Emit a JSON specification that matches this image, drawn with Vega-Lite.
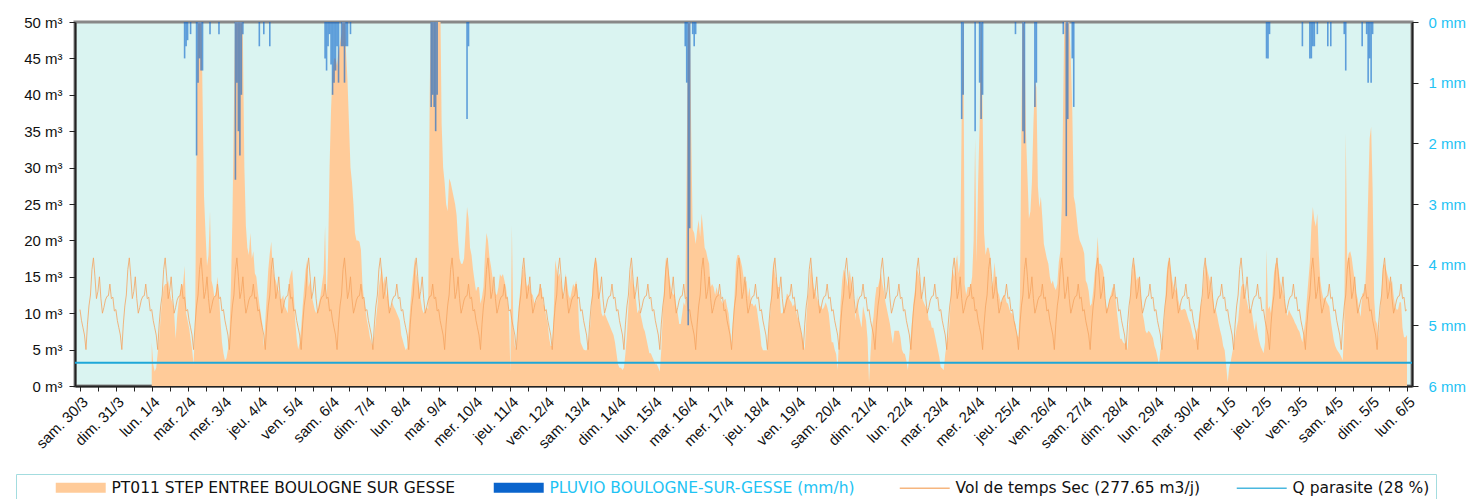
{
"$schema": "https://vega.github.io/schema/vega-lite/v6.json",
"width": 1337, "height": 364,
"autosize": {"type": "none"},
"padding": {"left": 75, "top": 22, "right": 56, "bottom": 113},
"background": "white",
"config": {"view": {"fill": "#daf4f1", "stroke": "#888888", "strokeWidth": 3}, "font": "Liberation Sans", "axis": {"labelOverlap": false}},
"datasets": {
"flow": [
{"t":"24033000","s":10.5},{"t":"24033001","s":9},{"t":"24033002","s":8},{"t":"24033003","s":7},{"t":"24033004","s":5},{"t":"24033005","s":8.5},{"t":"24033006","s":11},{"t":"24033007","s":12.5},{"t":"24033008","s":16},{"t":"24033009","s":17.6},{"t":"24033010","s":15},{"t":"24033011","s":12},{"t":"24033012","s":13},{"t":"24033013","s":15},{"t":"24033014","s":12},{"t":"24033015","s":10},{"t":"24033016","s":10.8},{"t":"24033017","s":11.8},{"t":"24033018","s":12.3},{"t":"24033019","s":12.4},{"t":"24033020","s":14},{"t":"24033021","s":12},{"t":"24033022","s":12.2},{"t":"24033023","s":10.3},
{"t":"24033100","s":10.5},{"t":"24033101","s":9},{"t":"24033102","s":8},{"t":"24033103","s":7},{"t":"24033104","s":5},{"t":"24033105","s":8.5},{"t":"24033106","s":11},{"t":"24033107","s":12.5},{"t":"24033108","s":16},{"t":"24033109","s":17.6},{"t":"24033110","s":15},{"t":"24033111","s":12},{"t":"24033112","s":13},{"t":"24033113","s":15},{"t":"24033114","s":12},{"t":"24033115","s":10},{"t":"24033116","s":10.8},{"t":"24033117","s":11.8},{"t":"24033118","s":12.3},{"t":"24033119","s":12.4},{"t":"24033120","s":14},{"t":"24033121","s":12},{"t":"24033122","s":12.2},{"t":"24033123","s":10.3},
{"t":"24040100","q":6,"s":10.5},{"t":"24040101","q":3,"s":9},{"t":"24040102","q":2,"s":8},{"t":"24040103","q":2.5,"s":7},{"t":"24040104","q":4.5,"s":5},{"t":"24040105","q":6.5,"s":8.5},{"t":"24040106","q":9.5,"s":11},{"t":"24040107","q":12,"s":12.5},{"t":"24040108","q":13.6,"s":16},{"t":"24040109","q":14,"s":17.6},{"t":"24040110","q":14,"s":15},{"t":"24040111","q":14.5,"s":12},{"t":"24040112","q":13,"s":13},{"t":"24040113","q":12,"s":15},{"t":"24040114","q":11.3,"s":12},{"t":"24040115","q":10,"s":10},{"t":"24040116","q":6.5,"s":10.8},{"t":"24040117","q":9.5,"s":11.8},{"t":"24040118","q":11.5,"s":12.3},{"t":"24040119","q":13,"s":12.4},{"t":"24040120","q":13.6,"s":14},{"t":"24040121","q":14,"s":12},{"t":"24040122","q":16.5,"s":12.2},{"t":"24040123","q":10,"s":10.3},
{"t":"24040200","q":9,"s":10.5},{"t":"24040201","q":8,"s":9},{"t":"24040202","q":6.5,"s":8},{"t":"24040203","q":5,"s":7},{"t":"24040204","q":3,"s":5},{"t":"24040205","q":8,"s":8.5},{"t":"24040206","q":32,"s":11},{"t":"24040207","q":55,"s":12.5},{"t":"24040208","q":55,"s":16},{"t":"24040209","q":55,"s":17.6},{"t":"24040210","q":40,"s":15},{"t":"24040211","q":26,"s":12},{"t":"24040212","q":21,"s":13},{"t":"24040213","q":16.5,"s":15},{"t":"24040214","q":18,"s":12},{"t":"24040215","q":24,"s":10},{"t":"24040216","q":14.5,"s":10.8},{"t":"24040217","q":13.6,"s":11.8},{"t":"24040218","q":12,"s":12.3},{"t":"24040219","q":13,"s":12.4},{"t":"24040220","q":15,"s":14},{"t":"24040221","q":12.5,"s":12},{"t":"24040222","q":9,"s":12.2},{"t":"24040223","q":6,"s":10.3},
{"t":"24040300","q":4.5,"s":10.5},{"t":"24040301","q":3.5,"s":9},{"t":"24040302","q":3.8,"s":8},{"t":"24040303","q":5,"s":7},{"t":"24040304","q":7,"s":5},{"t":"24040305","q":13.6,"s":8.5},{"t":"24040306","q":23,"s":11},{"t":"24040307","q":38,"s":12.5},{"t":"24040308","q":55,"s":16},{"t":"24040309","q":55,"s":17.6},{"t":"24040310","q":55,"s":15},{"t":"24040311","q":55,"s":12},{"t":"24040312","q":55,"s":13},{"t":"24040313","q":48,"s":15},{"t":"24040314","q":30,"s":12},{"t":"24040315","q":22,"s":10},{"t":"24040316","q":19,"s":10.8},{"t":"24040317","q":18,"s":11.8},{"t":"24040318","q":21,"s":12.3},{"t":"24040319","q":17.5,"s":12.4},{"t":"24040320","q":18.5,"s":14},{"t":"24040321","q":15.5,"s":12},{"t":"24040322","q":15,"s":12.2},{"t":"24040323","q":13,"s":10.3},
{"t":"24040400","q":11.3,"s":10.5},{"t":"24040401","q":10,"s":9},{"t":"24040402","q":8.5,"s":8},{"t":"24040403","q":5.4,"s":7},{"t":"24040404","q":9,"s":5},{"t":"24040405","q":12.5,"s":8.5},{"t":"24040406","q":16,"s":11},{"t":"24040407","q":18.2,"s":12.5},{"t":"24040408","q":19.8,"s":16},{"t":"24040409","q":16,"s":17.6},{"t":"24040410","q":15,"s":15},{"t":"24040411","q":14.5,"s":12},{"t":"24040412","q":13.6,"s":13},{"t":"24040413","q":13,"s":15},{"t":"24040414","q":12,"s":12},{"t":"24040415","q":12,"s":10},{"t":"24040416","q":12.5,"s":10.8},{"t":"24040417","q":11,"s":11.8},{"t":"24040418","q":10.5,"s":12.3},{"t":"24040419","q":10,"s":12.4},{"t":"24040420","q":14.5,"s":14},{"t":"24040421","q":15.4,"s":12},{"t":"24040422","q":16,"s":12.2},{"t":"24040423","q":13,"s":10.3},
{"t":"24040500","q":9,"s":10.5},{"t":"24040501","q":6.5,"s":9},{"t":"24040502","q":5,"s":8},{"t":"24040503","q":6,"s":7},{"t":"24040504","q":8,"s":5},{"t":"24040505","q":11,"s":8.5},{"t":"24040506","q":13.6,"s":11},{"t":"24040507","q":16,"s":12.5},{"t":"24040508","q":17.3,"s":16},{"t":"24040509","q":13.6,"s":17.6},{"t":"24040510","q":14.5,"s":15},{"t":"24040511","q":12.5,"s":12},{"t":"24040512","q":11.5,"s":13},{"t":"24040513","q":10.5,"s":15},{"t":"24040514","q":10,"s":12},{"t":"24040515","q":10.5,"s":10},{"t":"24040516","q":11.5,"s":10.8},{"t":"24040517","q":12.5,"s":11.8},{"t":"24040518","q":14,"s":12.3},{"t":"24040519","q":15.5,"s":12.4},{"t":"24040520","q":22,"s":14},{"t":"24040521","q":11.3,"s":12},{"t":"24040522","q":18,"s":12.2},{"t":"24040523","q":30,"s":10.3},
{"t":"24040600","q":38,"s":10.5},{"t":"24040601","q":43,"s":9},{"t":"24040602","q":45,"s":8},{"t":"24040603","q":45,"s":7},{"t":"24040604","q":44,"s":5},{"t":"24040605","q":46,"s":8.5},{"t":"24040606","q":47,"s":11},{"t":"24040607","q":48.5,"s":12.5},{"t":"24040608","q":55,"s":16},{"t":"24040609","q":55,"s":17.6},{"t":"24040610","q":46,"s":15},{"t":"24040611","q":42,"s":12},{"t":"24040612","q":36,"s":13},{"t":"24040613","q":30,"s":15},{"t":"24040614","q":28,"s":12},{"t":"24040615","q":25,"s":10},{"t":"24040616","q":21,"s":10.8},{"t":"24040617","q":20,"s":11.8},{"t":"24040618","q":20,"s":12.3},{"t":"24040619","q":19.8,"s":12.4},{"t":"24040620","q":18.7,"s":14},{"t":"24040621","q":14,"s":12},{"t":"24040622","q":12,"s":12.2},{"t":"24040623","q":10.5,"s":10.3},
{"t":"24040700","q":9,"s":10.5},{"t":"24040701","q":8,"s":9},{"t":"24040702","q":6.7,"s":8},{"t":"24040703","q":6,"s":7},{"t":"24040704","q":5.4,"s":5},{"t":"24040705","q":7,"s":8.5},{"t":"24040706","q":9,"s":11},{"t":"24040707","q":11,"s":12.5},{"t":"24040708","q":13.6,"s":16},{"t":"24040709","q":15,"s":17.6},{"t":"24040710","q":16.4,"s":15},{"t":"24040711","q":14,"s":12},{"t":"24040712","q":15,"s":13},{"t":"24040713","q":12.2,"s":15},{"t":"24040714","q":13.6,"s":12},{"t":"24040715","q":11,"s":10},{"t":"24040716","q":10.5,"s":10.8},{"t":"24040717","q":11.5,"s":11.8},{"t":"24040718","q":10.9,"s":12.3},{"t":"24040719","q":10.5,"s":12.4},{"t":"24040720","q":10,"s":14},{"t":"24040721","q":9.5,"s":12},{"t":"24040722","q":9,"s":12.2},{"t":"24040723","q":7,"s":10.3},
{"t":"24040800","q":6.3,"s":10.5},{"t":"24040801","q":5.5,"s":9},{"t":"24040802","q":4.9,"s":8},{"t":"24040803","q":5.3,"s":7},{"t":"24040804","q":8,"s":5},{"t":"24040805","q":11,"s":8.5},{"t":"24040806","q":13.6,"s":11},{"t":"24040807","q":15.5,"s":12.5},{"t":"24040808","q":17.5,"s":16},{"t":"24040809","q":15.5,"s":17.6},{"t":"24040810","q":14.5,"s":15},{"t":"24040811","q":13.6,"s":12},{"t":"24040812","q":11.8,"s":13},{"t":"24040813","q":10.5,"s":15},{"t":"24040814","q":10,"s":12},{"t":"24040815","q":10.3,"s":10},{"t":"24040816","q":10.9,"s":10.8},{"t":"24040817","q":10.5,"s":11.8},{"t":"24040818","q":40,"s":12.3},{"t":"24040819","q":55,"s":12.4},{"t":"24040820","q":55,"s":14},{"t":"24040821","q":55,"s":12},{"t":"24040822","q":55,"s":12.2},{"t":"24040823","q":55,"s":10.3},
{"t":"24040900","q":55,"s":10.5},{"t":"24040901","q":55,"s":9},{"t":"24040902","q":36,"s":8},{"t":"24040903","q":30,"s":7},{"t":"24040904","q":28,"s":5},{"t":"24040905","q":25,"s":8.5},{"t":"24040906","q":24,"s":11},{"t":"24040907","q":28.5,"s":12.5},{"t":"24040908","q":28,"s":16},{"t":"24040909","q":27,"s":17.6},{"t":"24040910","q":26,"s":15},{"t":"24040911","q":25,"s":12},{"t":"24040912","q":23.5,"s":13},{"t":"24040913","q":20,"s":15},{"t":"24040914","q":17.5,"s":12},{"t":"24040915","q":16.8,"s":10},{"t":"24040916","q":16.8,"s":10.8},{"t":"24040917","q":17.5,"s":11.8},{"t":"24040918","q":21,"s":12.3},{"t":"24040919","q":24.6,"s":12.4},{"t":"24040920","q":23,"s":14},{"t":"24040921","q":19,"s":12},{"t":"24040922","q":18,"s":12.2},{"t":"24040923","q":16,"s":10.3},
{"t":"24041000","q":14.5,"s":10.5},{"t":"24041001","q":13,"s":9},{"t":"24041002","q":13.6,"s":8},{"t":"24041003","q":13.6,"s":7},{"t":"24041004","q":11.3,"s":5},{"t":"24041005","q":12.2,"s":8.5},{"t":"24041006","q":13.6,"s":11},{"t":"24041007","q":18,"s":12.5},{"t":"24041008","q":21,"s":16},{"t":"24041009","q":20,"s":17.6},{"t":"24041010","q":17.7,"s":15},{"t":"24041011","q":16.5,"s":12},{"t":"24041012","q":15,"s":13},{"t":"24041013","q":13.6,"s":15},{"t":"24041014","q":12.7,"s":12},{"t":"24041015","q":12.5,"s":10},{"t":"24041016","q":13.6,"s":10.8},{"t":"24041017","q":15.4,"s":11.8},{"t":"24041018","q":15,"s":12.3},{"t":"24041019","q":15.4,"s":12.4},{"t":"24041020","q":14.5,"s":14},{"t":"24041021","q":13.6,"s":12},{"t":"24041022","q":12,"s":12.2},{"t":"24041023","q":10,"s":10.3},
{"t":"24041100","q":2,"s":10.5},{"t":"24041101","q":22,"s":9},{"t":"24041102","q":8,"s":8},{"t":"24041103","q":5.5,"s":7},{"t":"24041104","q":4.9,"s":5},{"t":"24041105","q":8.5,"s":8.5},{"t":"24041106","q":12,"s":11},{"t":"24041107","q":14,"s":12.5},{"t":"24041108","q":15.4,"s":16},{"t":"24041109","q":16.8,"s":17.6},{"t":"24041110","q":15,"s":15},{"t":"24041111","q":13.6,"s":12},{"t":"24041112","q":14,"s":13},{"t":"24041113","q":13.6,"s":15},{"t":"24041114","q":12.7,"s":12},{"t":"24041115","q":12.5,"s":10},{"t":"24041116","q":11.5,"s":10.8},{"t":"24041117","q":11.3,"s":11.8},{"t":"24041118","q":12.5,"s":12.3},{"t":"24041119","q":12.7,"s":12.4},{"t":"24041120","q":13.6,"s":14},{"t":"24041121","q":13.4,"s":12},{"t":"24041122","q":11.3,"s":12.2},{"t":"24041123","q":10.9,"s":10.3},
{"t":"24041200","q":9.5,"s":10.5},{"t":"24041201","q":8.5,"s":9},{"t":"24041202","q":6.5,"s":8},{"t":"24041203","q":5.5,"s":7},{"t":"24041204","q":5.5,"s":5},{"t":"24041205","q":10,"s":8.5},{"t":"24041206","q":17.3,"s":11},{"t":"24041207","q":16,"s":12.5},{"t":"24041208","q":15,"s":16},{"t":"24041209","q":15.5,"s":17.6},{"t":"24041210","q":14,"s":15},{"t":"24041211","q":13,"s":12},{"t":"24041212","q":12,"s":13},{"t":"24041213","q":15.5,"s":15},{"t":"24041214","q":14,"s":12},{"t":"24041215","q":12.5,"s":10},{"t":"24041216","q":12,"s":10.8},{"t":"24041217","q":13,"s":11.8},{"t":"24041218","q":14,"s":12.3},{"t":"24041219","q":13.6,"s":12.4},{"t":"24041220","q":14.5,"s":14},{"t":"24041221","q":13,"s":12},{"t":"24041222","q":8,"s":12.2},{"t":"24041223","q":6,"s":10.3},
{"t":"24041300","q":5.5,"s":10.5},{"t":"24041301","q":5,"s":9},{"t":"24041302","q":4.9,"s":8},{"t":"24041303","q":4.9,"s":7},{"t":"24041304","q":5.5,"s":5},{"t":"24041305","q":7,"s":8.5},{"t":"24041306","q":10,"s":11},{"t":"24041307","q":14,"s":12.5},{"t":"24041308","q":16.5,"s":16},{"t":"24041309","q":17.5,"s":17.6},{"t":"24041310","q":16.8,"s":15},{"t":"24041311","q":14.5,"s":12},{"t":"24041312","q":12,"s":13},{"t":"24041313","q":10,"s":15},{"t":"24041314","q":9.5,"s":12},{"t":"24041315","q":10,"s":10},{"t":"24041316","q":9.5,"s":10.8},{"t":"24041317","q":9,"s":11.8},{"t":"24041318","q":8.5,"s":12.3},{"t":"24041319","q":8,"s":12.4},{"t":"24041320","q":7.5,"s":14},{"t":"24041321","q":7,"s":12},{"t":"24041322","q":6,"s":12.2},{"t":"24041323","q":4.5,"s":10.3},
{"t":"24041400","q":3,"s":10.5},{"t":"24041401","q":2.5,"s":9},{"t":"24041402","q":2.5,"s":8},{"t":"24041403","q":2.2,"s":7},{"t":"24041404","q":2.5,"s":5},{"t":"24041405","q":4.5,"s":8.5},{"t":"24041406","q":7,"s":11},{"t":"24041407","q":11,"s":12.5},{"t":"24041408","q":14,"s":16},{"t":"24041409","q":16.5,"s":17.6},{"t":"24041410","q":14,"s":15},{"t":"24041411","q":13.6,"s":12},{"t":"24041412","q":12,"s":13},{"t":"24041413","q":10,"s":15},{"t":"24041414","q":10.5,"s":12},{"t":"24041415","q":10,"s":10},{"t":"24041416","q":9,"s":10.8},{"t":"24041417","q":8,"s":11.8},{"t":"24041418","q":7.5,"s":12.3},{"t":"24041419","q":6.5,"s":12.4},{"t":"24041420","q":5.5,"s":14},{"t":"24041421","q":4.5,"s":12},{"t":"24041422","q":4.5,"s":12.2},{"t":"24041423","q":4,"s":10.3},
{"t":"24041500","q":3.5,"s":10.5},{"t":"24041501","q":3,"s":9},{"t":"24041502","q":3,"s":8},{"t":"24041503","q":2.5,"s":7},{"t":"24041504","q":2,"s":5},{"t":"24041505","q":5,"s":8.5},{"t":"24041506","q":10,"s":11},{"t":"24041507","q":14,"s":12.5},{"t":"24041508","q":17.5,"s":16},{"t":"24041509","q":17,"s":17.6},{"t":"24041510","q":15.5,"s":15},{"t":"24041511","q":14,"s":12},{"t":"24041512","q":13,"s":13},{"t":"24041513","q":12.5,"s":15},{"t":"24041514","q":12.7,"s":12},{"t":"24041515","q":11,"s":10},{"t":"24041516","q":10,"s":10.8},{"t":"24041517","q":8.5,"s":11.8},{"t":"24041518","q":8.5,"s":12.3},{"t":"24041519","q":10,"s":12.4},{"t":"24041520","q":11.5,"s":14},{"t":"24041521","q":11,"s":12},{"t":"24041522","q":30,"s":12.2},{"t":"24041523","q":55,"s":10.3},
{"t":"24041600","q":55,"s":10.5},{"t":"24041601","q":35,"s":9},{"t":"24041602","q":21.5,"s":8},{"t":"24041603","q":21,"s":7},{"t":"24041604","q":19.5,"s":5},{"t":"24041605","q":21.4,"s":8.5},{"t":"24041606","q":22.8,"s":11},{"t":"24041607","q":20.5,"s":12.5},{"t":"24041608","q":23.7,"s":16},{"t":"24041609","q":21.5,"s":17.6},{"t":"24041610","q":19,"s":15},{"t":"24041611","q":18.5,"s":12},{"t":"24041612","q":17.5,"s":13},{"t":"24041613","q":16.8,"s":15},{"t":"24041614","q":13.6,"s":12},{"t":"24041615","q":14,"s":10},{"t":"24041616","q":13.6,"s":10.8},{"t":"24041617","q":12.5,"s":11.8},{"t":"24041618","q":13.6,"s":12.3},{"t":"24041619","q":12.5,"s":12.4},{"t":"24041620","q":12.7,"s":14},{"t":"24041621","q":11.8,"s":12},{"t":"24041622","q":11.3,"s":12.2},{"t":"24041623","q":11.8,"s":10.3},
{"t":"24041700","q":12,"s":10.5},{"t":"24041701","q":10.9,"s":9},{"t":"24041702","q":10,"s":8},{"t":"24041703","q":8,"s":7},{"t":"24041704","q":5.4,"s":5},{"t":"24041705","q":9,"s":8.5},{"t":"24041706","q":12.5,"s":11},{"t":"24041707","q":17,"s":12.5},{"t":"24041708","q":18,"s":16},{"t":"24041709","q":18,"s":17.6},{"t":"24041710","q":17.3,"s":15},{"t":"24041711","q":16.4,"s":12},{"t":"24041712","q":15,"s":13},{"t":"24041713","q":14,"s":15},{"t":"24041714","q":14.5,"s":12},{"t":"24041715","q":12.2,"s":10},{"t":"24041716","q":13.6,"s":10.8},{"t":"24041717","q":11.3,"s":11.8},{"t":"24041718","q":11.3,"s":12.3},{"t":"24041719","q":10.9,"s":12.4},{"t":"24041720","q":11.3,"s":14},{"t":"24041721","q":10.5,"s":12},{"t":"24041722","q":9,"s":12.2},{"t":"24041723","q":7.6,"s":10.3},
{"t":"24041800","q":5.5,"s":10.5},{"t":"24041801","q":4.9,"s":9},{"t":"24041802","q":4.9,"s":8},{"t":"24041803","q":4.9,"s":7},{"t":"24041804","q":4.9,"s":5},{"t":"24041805","q":8,"s":8.5},{"t":"24041806","q":10,"s":11},{"t":"24041807","q":14.5,"s":12.5},{"t":"24041808","q":17.3,"s":16},{"t":"24041809","q":15.5,"s":17.6},{"t":"24041810","q":14.5,"s":15},{"t":"24041811","q":13.6,"s":12},{"t":"24041812","q":13.6,"s":13},{"t":"24041813","q":10,"s":15},{"t":"24041814","q":10,"s":12},{"t":"24041815","q":10.5,"s":10},{"t":"24041816","q":11.5,"s":10.8},{"t":"24041817","q":12.7,"s":11.8},{"t":"24041818","q":12.5,"s":12.3},{"t":"24041819","q":11.8,"s":12.4},{"t":"24041820","q":11.5,"s":14},{"t":"24041821","q":10.9,"s":12},{"t":"24041822","q":11.3,"s":12.2},{"t":"24041823","q":10.5,"s":10.3},
{"t":"24041900","q":9.5,"s":10.5},{"t":"24041901","q":9,"s":9},{"t":"24041902","q":8,"s":8},{"t":"24041903","q":7,"s":7},{"t":"24041904","q":6,"s":5},{"t":"24041905","q":4.9,"s":8.5},{"t":"24041906","q":9,"s":11},{"t":"24041907","q":12,"s":12.5},{"t":"24041908","q":13.6,"s":16},{"t":"24041909","q":16.5,"s":17.6},{"t":"24041910","q":15,"s":15},{"t":"24041911","q":13.6,"s":12},{"t":"24041912","q":13,"s":13},{"t":"24041913","q":12.2,"s":15},{"t":"24041914","q":11.5,"s":12},{"t":"24041915","q":11,"s":10},{"t":"24041916","q":10.9,"s":10.8},{"t":"24041917","q":10.5,"s":11.8},{"t":"24041918","q":10.9,"s":12.3},{"t":"24041919","q":11.5,"s":12.4},{"t":"24041920","q":10.9,"s":14},{"t":"24041921","q":10,"s":12},{"t":"24041922","q":8,"s":12.2},{"t":"24041923","q":6,"s":10.3},
{"t":"24042000","q":6,"s":10.5},{"t":"24042001","q":5,"s":9},{"t":"24042002","q":4.4,"s":8},{"t":"24042003","q":2.2,"s":7},{"t":"24042004","q":7,"s":5},{"t":"24042005","q":11.5,"s":8.5},{"t":"24042006","q":14.5,"s":11},{"t":"24042007","q":16,"s":12.5},{"t":"24042008","q":15.5,"s":16},{"t":"24042009","q":14.5,"s":17.6},{"t":"24042010","q":13.6,"s":15},{"t":"24042011","q":16,"s":12},{"t":"24042012","q":14.5,"s":13},{"t":"24042013","q":13.6,"s":15},{"t":"24042014","q":11.5,"s":12},{"t":"24042015","q":9,"s":10},{"t":"24042016","q":12.5,"s":10.8},{"t":"24042017","q":10,"s":11.8},{"t":"24042018","q":9,"s":12.3},{"t":"24042019","q":8,"s":12.4},{"t":"24042020","q":11,"s":14},{"t":"24042021","q":10,"s":12},{"t":"24042022","q":9,"s":12.2},{"t":"24042023","q":6.5,"s":10.3},
{"t":"24042100","q":0.5,"s":10.5},{"t":"24042101","q":4.5,"s":9},{"t":"24042102","q":8,"s":8},{"t":"24042103","q":9.5,"s":7},{"t":"24042104","q":12,"s":5},{"t":"24042105","q":13.6,"s":8.5},{"t":"24042106","q":13.6,"s":11},{"t":"24042107","q":14.5,"s":12.5},{"t":"24042108","q":15.5,"s":16},{"t":"24042109","q":14,"s":17.6},{"t":"24042110","q":13,"s":15},{"t":"24042111","q":11.5,"s":12},{"t":"24042112","q":10.5,"s":13},{"t":"24042113","q":9.5,"s":15},{"t":"24042114","q":8.5,"s":12},{"t":"24042115","q":7,"s":10},{"t":"24042116","q":5.8,"s":10.8},{"t":"24042117","q":7.6,"s":11.8},{"t":"24042118","q":7.6,"s":12.3},{"t":"24042119","q":7.6,"s":12.4},{"t":"24042120","q":7.6,"s":14},{"t":"24042121","q":6.7,"s":12},{"t":"24042122","q":5,"s":12.2},{"t":"24042123","q":4.5,"s":10.3},
{"t":"24042200","q":4.4,"s":10.5},{"t":"24042201","q":3.5,"s":9},{"t":"24042202","q":2.2,"s":8},{"t":"24042203","q":4.4,"s":7},{"t":"24042204","q":7,"s":5},{"t":"24042205","q":9.5,"s":8.5},{"t":"24042206","q":12,"s":11},{"t":"24042207","q":13.6,"s":12.5},{"t":"24042208","q":16,"s":16},{"t":"24042209","q":15.5,"s":17.6},{"t":"24042210","q":14.5,"s":15},{"t":"24042211","q":13,"s":12},{"t":"24042212","q":11.8,"s":13},{"t":"24042213","q":11.3,"s":15},{"t":"24042214","q":10.9,"s":12},{"t":"24042215","q":10.5,"s":10},{"t":"24042216","q":9,"s":10.8},{"t":"24042217","q":9,"s":11.8},{"t":"24042218","q":8,"s":12.3},{"t":"24042219","q":8,"s":12.4},{"t":"24042220","q":7,"s":14},{"t":"24042221","q":6,"s":12},{"t":"24042222","q":5,"s":12.2},{"t":"24042223","q":4,"s":10.3},
{"t":"24042300","q":2.6,"s":10.5},{"t":"24042301","q":2.4,"s":9},{"t":"24042302","q":2.2,"s":8},{"t":"24042303","q":4.4,"s":7},{"t":"24042304","q":5.8,"s":5},{"t":"24042305","q":6.7,"s":8.5},{"t":"24042306","q":9,"s":11},{"t":"24042307","q":14,"s":12.5},{"t":"24042308","q":16,"s":16},{"t":"24042309","q":15,"s":17.6},{"t":"24042310","q":17,"s":15},{"t":"24042311","q":18,"s":12},{"t":"24042312","q":15.5,"s":13},{"t":"24042313","q":17,"s":15},{"t":"24042314","q":37,"s":12},{"t":"24042315","q":55,"s":10},{"t":"24042316","q":14,"s":10.8},{"t":"24042317","q":12.5,"s":11.8},{"t":"24042318","q":13.6,"s":12.3},{"t":"24042319","q":13.6,"s":12.4},{"t":"24042320","q":13.6,"s":14},{"t":"24042321","q":15,"s":12},{"t":"24042322","q":20,"s":12.2},{"t":"24042323","q":34,"s":10.3},
{"t":"24042400","q":17,"s":10.5},{"t":"24042401","q":28,"s":9},{"t":"24042402","q":36,"s":8},{"t":"24042403","q":55,"s":7},{"t":"24042404","q":38,"s":5},{"t":"24042405","q":21,"s":8.5},{"t":"24042406","q":18,"s":11},{"t":"24042407","q":19,"s":12.5},{"t":"24042408","q":19,"s":16},{"t":"24042409","q":18,"s":17.6},{"t":"24042410","q":13.6,"s":15},{"t":"24042411","q":14.5,"s":12},{"t":"24042412","q":17,"s":13},{"t":"24042413","q":14.5,"s":15},{"t":"24042414","q":13,"s":12},{"t":"24042415","q":12.5,"s":10},{"t":"24042416","q":11.5,"s":10.8},{"t":"24042417","q":11.5,"s":11.8},{"t":"24042418","q":12.5,"s":12.3},{"t":"24042419","q":12.5,"s":12.4},{"t":"24042420","q":11.5,"s":14},{"t":"24042421","q":11.3,"s":12},{"t":"24042422","q":10.5,"s":12.2},{"t":"24042423","q":10,"s":10.3},
{"t":"24042500","q":10,"s":10.5},{"t":"24042501","q":9,"s":9},{"t":"24042502","q":8.5,"s":8},{"t":"24042503","q":7,"s":7},{"t":"24042504","q":6.7,"s":5},{"t":"24042505","q":12,"s":8.5},{"t":"24042506","q":36.5,"s":11},{"t":"24042507","q":55,"s":12.5},{"t":"24042508","q":48,"s":16},{"t":"24042509","q":35,"s":17.6},{"t":"24042510","q":29,"s":15},{"t":"24042511","q":23,"s":12},{"t":"24042512","q":24,"s":13},{"t":"24042513","q":28,"s":15},{"t":"24042514","q":36,"s":12},{"t":"24042515","q":42,"s":10},{"t":"24042516","q":41,"s":10.8},{"t":"24042517","q":27.4,"s":11.8},{"t":"24042518","q":24.5,"s":12.3},{"t":"24042519","q":26,"s":12.4},{"t":"24042520","q":23,"s":14},{"t":"24042521","q":19.5,"s":12},{"t":"24042522","q":18.5,"s":12.2},{"t":"24042523","q":17.5,"s":10.3},
{"t":"24042600","q":16.8,"s":10.5},{"t":"24042601","q":15,"s":9},{"t":"24042602","q":14,"s":8},{"t":"24042603","q":14.5,"s":7},{"t":"24042604","q":13.6,"s":5},{"t":"24042605","q":13.2,"s":8.5},{"t":"24042606","q":14,"s":11},{"t":"24042607","q":17,"s":12.5},{"t":"24042608","q":18.5,"s":16},{"t":"24042609","q":25,"s":17.6},{"t":"24042610","q":40,"s":15},{"t":"24042611","q":55,"s":12},{"t":"24042612","q":55,"s":13},{"t":"24042613","q":55,"s":15},{"t":"24042614","q":50,"s":12},{"t":"24042615","q":45,"s":10},{"t":"24042616","q":38,"s":10.8},{"t":"24042617","q":26,"s":11.8},{"t":"24042618","q":25,"s":12.3},{"t":"24042619","q":23,"s":12.4},{"t":"24042620","q":21,"s":14},{"t":"24042621","q":20,"s":12},{"t":"24042622","q":19.5,"s":12.2},{"t":"24042623","q":19,"s":10.3},
{"t":"24042700","q":18.2,"s":10.5},{"t":"24042701","q":14.5,"s":9},{"t":"24042702","q":14,"s":8},{"t":"24042703","q":13,"s":7},{"t":"24042704","q":11,"s":5},{"t":"24042705","q":11.3,"s":8.5},{"t":"24042706","q":13,"s":11},{"t":"24042707","q":15.5,"s":12.5},{"t":"24042708","q":17,"s":16},{"t":"24042709","q":20.5,"s":17.6},{"t":"24042710","q":16.8,"s":15},{"t":"24042711","q":16.8,"s":12},{"t":"24042712","q":16.4,"s":13},{"t":"24042713","q":15.5,"s":15},{"t":"24042714","q":12,"s":12},{"t":"24042715","q":10.5,"s":10},{"t":"24042716","q":10.9,"s":10.8},{"t":"24042717","q":12,"s":11.8},{"t":"24042718","q":12.7,"s":12.3},{"t":"24042719","q":13.6,"s":12.4},{"t":"24042720","q":13,"s":14},{"t":"24042721","q":12,"s":12},{"t":"24042722","q":10,"s":12.2},{"t":"24042723","q":8.3,"s":10.3},
{"t":"24042800","q":6.5,"s":10.5},{"t":"24042801","q":6.5,"s":9},{"t":"24042802","q":6,"s":8},{"t":"24042803","q":5.8,"s":7},{"t":"24042804","q":6,"s":5},{"t":"24042805","q":4.9,"s":8.5},{"t":"24042806","q":8.5,"s":11},{"t":"24042807","q":13.6,"s":12.5},{"t":"24042808","q":15.4,"s":16},{"t":"24042809","q":17,"s":17.6},{"t":"24042810","q":16.5,"s":15},{"t":"24042811","q":14.5,"s":12},{"t":"24042812","q":15,"s":13},{"t":"24042813","q":14.5,"s":15},{"t":"24042814","q":12.5,"s":12},{"t":"24042815","q":10,"s":10},{"t":"24042816","q":9,"s":10.8},{"t":"24042817","q":7.6,"s":11.8},{"t":"24042818","q":7.2,"s":12.3},{"t":"24042819","q":7.6,"s":12.4},{"t":"24042820","q":7.4,"s":14},{"t":"24042821","q":7,"s":12},{"t":"24042822","q":6.6,"s":12.2},{"t":"24042823","q":5.5,"s":10.3},
{"t":"24042900","q":4.9,"s":10.5},{"t":"24042901","q":4,"s":9},{"t":"24042902","q":3,"s":8},{"t":"24042903","q":4.9,"s":7},{"t":"24042904","q":5.4,"s":5},{"t":"24042905","q":7.3,"s":8.5},{"t":"24042906","q":10.5,"s":11},{"t":"24042907","q":15,"s":12.5},{"t":"24042908","q":17,"s":16},{"t":"24042909","q":17.3,"s":17.6},{"t":"24042910","q":16,"s":15},{"t":"24042911","q":14.5,"s":12},{"t":"24042912","q":13.6,"s":13},{"t":"24042913","q":13.1,"s":15},{"t":"24042914","q":13.6,"s":12},{"t":"24042915","q":11.8,"s":10},{"t":"24042916","q":11,"s":10.8},{"t":"24042917","q":10.4,"s":11.8},{"t":"24042918","q":10.5,"s":12.3},{"t":"24042919","q":10.6,"s":12.4},{"t":"24042920","q":10.4,"s":14},{"t":"24042921","q":9.7,"s":12},{"t":"24042922","q":9,"s":12.2},{"t":"24042923","q":8.5,"s":10.3},
{"t":"24043000","q":7.6,"s":10.5},{"t":"24043001","q":6.7,"s":9},{"t":"24043002","q":6.3,"s":8},{"t":"24043003","q":7.5,"s":7},{"t":"24043004","q":8,"s":5},{"t":"24043005","q":9.7,"s":8.5},{"t":"24043006","q":11,"s":11},{"t":"24043007","q":12,"s":12.5},{"t":"24043008","q":14.5,"s":16},{"t":"24043009","q":17,"s":17.6},{"t":"24043010","q":16.3,"s":15},{"t":"24043011","q":15.4,"s":12},{"t":"24043012","q":14.5,"s":13},{"t":"24043013","q":13.6,"s":15},{"t":"24043014","q":12.5,"s":12},{"t":"24043015","q":10.5,"s":10},{"t":"24043016","q":10.5,"s":10.8},{"t":"24043017","q":9.6,"s":11.8},{"t":"24043018","q":8.5,"s":12.3},{"t":"24043019","q":7.6,"s":12.4},{"t":"24043020","q":6.8,"s":14},{"t":"24043021","q":5.5,"s":12},{"t":"24043022","q":4.9,"s":12.2},{"t":"24043023","q":2.8,"s":10.3},
{"t":"24050100","q":0.5,"s":10.5},{"t":"24050101","q":2.5,"s":9},{"t":"24050102","q":3.3,"s":8},{"t":"24050103","q":4.5,"s":7},{"t":"24050104","q":5.5,"s":5},{"t":"24050105","q":6.7,"s":8.5},{"t":"24050106","q":8,"s":11},{"t":"24050107","q":9,"s":12.5},{"t":"24050108","q":11.3,"s":16},{"t":"24050109","q":13.6,"s":17.6},{"t":"24050110","q":14,"s":15},{"t":"24050111","q":14,"s":12},{"t":"24050112","q":12.5,"s":13},{"t":"24050113","q":11.5,"s":15},{"t":"24050114","q":10.5,"s":12},{"t":"24050115","q":10.5,"s":10},{"t":"24050116","q":10.5,"s":10.8},{"t":"24050117","q":9,"s":11.8},{"t":"24050118","q":7.6,"s":12.3},{"t":"24050119","q":9,"s":12.4},{"t":"24050120","q":7.4,"s":14},{"t":"24050121","q":6.3,"s":12},{"t":"24050122","q":5.5,"s":12.2},{"t":"24050123","q":5,"s":10.3},
{"t":"24050200","q":4.5,"s":10.5},{"t":"24050201","q":6,"s":9},{"t":"24050202","q":18.7,"s":8},{"t":"24050203","q":10.5,"s":7},{"t":"24050204","q":11,"s":5},{"t":"24050205","q":10,"s":8.5},{"t":"24050206","q":12.5,"s":11},{"t":"24050207","q":15.5,"s":12.5},{"t":"24050208","q":16.8,"s":16},{"t":"24050209","q":17,"s":17.6},{"t":"24050210","q":16,"s":15},{"t":"24050211","q":14.5,"s":12},{"t":"24050212","q":13.6,"s":13},{"t":"24050213","q":13,"s":15},{"t":"24050214","q":12,"s":12},{"t":"24050215","q":10.4,"s":10},{"t":"24050216","q":9.6,"s":10.8},{"t":"24050217","q":10.5,"s":11.8},{"t":"24050218","q":10,"s":12.3},{"t":"24050219","q":9.6,"s":12.4},{"t":"24050220","q":9.2,"s":14},{"t":"24050221","q":8.7,"s":12},{"t":"24050222","q":8.3,"s":12.2},{"t":"24050223","q":7.8,"s":10.3},
{"t":"24050300","q":7.5,"s":10.5},{"t":"24050301","q":6.7,"s":9},{"t":"24050302","q":6,"s":8},{"t":"24050303","q":7.5,"s":7},{"t":"24050304","q":9,"s":5},{"t":"24050305","q":12,"s":8.5},{"t":"24050306","q":14.5,"s":11},{"t":"24050307","q":17,"s":12.5},{"t":"24050308","q":21.9,"s":16},{"t":"24050309","q":24.6,"s":17.6},{"t":"24050310","q":22.8,"s":15},{"t":"24050311","q":21.9,"s":12},{"t":"24050312","q":23.7,"s":13},{"t":"24050313","q":18,"s":15},{"t":"24050314","q":14.5,"s":12},{"t":"24050315","q":13,"s":10},{"t":"24050316","q":12,"s":10.8},{"t":"24050317","q":12.2,"s":11.8},{"t":"24050318","q":11.7,"s":12.3},{"t":"24050319","q":11.3,"s":12.4},{"t":"24050320","q":10.9,"s":14},{"t":"24050321","q":9,"s":12},{"t":"24050322","q":7.6,"s":12.2},{"t":"24050323","q":6.3,"s":10.3},
{"t":"24050400","q":5.5,"s":10.5},{"t":"24050401","q":5,"s":9},{"t":"24050402","q":4.7,"s":8},{"t":"24050403","q":4.4,"s":7},{"t":"24050404","q":4,"s":5},{"t":"24050405","q":3.5,"s":8.5},{"t":"24050406","q":8,"s":11},{"t":"24050407","q":34.7,"s":12.5},{"t":"24050408","q":17,"s":16},{"t":"24050409","q":18.2,"s":17.6},{"t":"24050410","q":18.5,"s":15},{"t":"24050411","q":17.6,"s":12},{"t":"24050412","q":16,"s":13},{"t":"24050413","q":14.5,"s":15},{"t":"24050414","q":12.7,"s":12},{"t":"24050415","q":12,"s":10},{"t":"24050416","q":10.4,"s":10.8},{"t":"24050417","q":9.5,"s":11.8},{"t":"24050418","q":12.7,"s":12.3},{"t":"24050419","q":12.7,"s":12.4},{"t":"24050420","q":13.3,"s":14},{"t":"24050421","q":18,"s":12},{"t":"24050422","q":26,"s":12.2},{"t":"24050423","q":34,"s":10.3},
{"t":"24050500","q":35.6,"s":10.5},{"t":"24050501","q":27,"s":9},{"t":"24050502","q":12,"s":8},{"t":"24050503","q":9,"s":7},{"t":"24050504","q":8.5,"s":5},{"t":"24050505","q":6.5,"s":8.5},{"t":"24050506","q":10,"s":11},{"t":"24050507","q":13,"s":12.5},{"t":"24050508","q":16.5,"s":16},{"t":"24050509","q":16.8,"s":17.6},{"t":"24050510","q":16,"s":15},{"t":"24050511","q":15.2,"s":12},{"t":"24050512","q":14.5,"s":13},{"t":"24050513","q":14,"s":15},{"t":"24050514","q":14.5,"s":12},{"t":"24050515","q":12.5,"s":10},{"t":"24050516","q":11,"s":10.8},{"t":"24050517","q":10.5,"s":11.8},{"t":"24050518","q":10.5,"s":12.3},{"t":"24050519","q":11.5,"s":12.4},{"t":"24050520","q":11.5,"s":14},{"t":"24050521","q":8,"s":12},{"t":"24050522","q":6.7,"s":12.2},{"t":"24050523","q":6.7,"s":10.3},
{"t":"24050600","q":7,"s":10.5}
],
"rain": [
{"t":"24040122","r":0.6},{"t":"24040123","r":0.4},{"t":"24040200","r":0.3},{"t":"24040202","r":0.2},{"t":"24040206","r":2.2},{"t":"24040207","r":1.0},{"t":"24040208","r":0.6},{"t":"24040209","r":0.8},{"t":"24040210","r":0.8},{"t":"24040215","r":0.2},{"t":"24040221","r":0.2},
{"t":"24040308","r":2.6},{"t":"24040309","r":1.0},{"t":"24040310","r":1.8},{"t":"24040311","r":2.2},{"t":"24040312","r":1.2},{"t":"24040313","r":0.2},
{"t":"24040400","r":0.4},{"t":"24040403","r":0.2},{"t":"24040407","r":0.4},
{"t":"24040520","r":0.6},{"t":"24040521","r":0.8},{"t":"24040522","r":0.4},{"t":"24040523","r":0.2},
{"t":"24040600","r":0.7},{"t":"24040601","r":1.2},{"t":"24040602","r":1.0},{"t":"24040603","r":0.8},{"t":"24040604","r":0.4},{"t":"24040605","r":1.0},{"t":"24040607","r":0.4},{"t":"24040608","r":0.4},{"t":"24040609","r":1.0},{"t":"24040610","r":0.4},{"t":"24040611","r":0.4},{"t":"24040613","r":0.2},
{"t":"24040819","r":1.4},{"t":"24040820","r":1.2},{"t":"24040821","r":1.4},{"t":"24040822","r":1.8},{"t":"24040823","r":1.2},
{"t":"24040919","r":1.6},{"t":"24040920","r":0.4},
{"t":"24041521","r":0.4},{"t":"24041522","r":1.0},{"t":"24041523","r":5.0},{"t":"24041600","r":3.4},{"t":"24041602","r":0.2},{"t":"24041603","r":0.4},{"t":"24041604","r":0.2},
{"t":"24042314","r":1.6},{"t":"24042315","r":1.2},{"t":"24042323","r":1.8},
{"t":"24042402","r":1.0},{"t":"24042403","r":1.6},{"t":"24042404","r":1.2},
{"t":"24042502","r":0.2},{"t":"24042507","r":1.8},{"t":"24042508","r":2.0},{"t":"24042515","r":1.4},{"t":"24042516","r":1.0},
{"t":"24042610","r":0.2},{"t":"24042612","r":3.2},{"t":"24042613","r":1.6},{"t":"24042616","r":0.6},{"t":"24042617","r":1.4},
{"t":"24050202","r":0.6},{"t":"24050203","r":0.6},{"t":"24050204","r":0.2},
{"t":"24050302","r":0.4},{"t":"24050307","r":0.6},{"t":"24050308","r":0.6},{"t":"24050309","r":0.4},{"t":"24050310","r":0.4},{"t":"24050312","r":0.2},{"t":"24050319","r":0.4},{"t":"24050321","r":0.4},
{"t":"24050406","r":0.2},{"t":"24050407","r":0.8},{"t":"24050418","r":0.4},{"t":"24050421","r":0.2},{"t":"24050422","r":1.0},{"t":"24050423","r":0.6},
{"t":"24050500","r":1.0},{"t":"24050501","r":0.2}
],
"qp": [{"qp": 3.2}]
},
"layer": [
{
"data": {"name": "flow", "format": {"parse": {"t": "date:'%y%m%d%H'"}}},
"layer": [
{
"mark": {"type": "area", "clip": true, "opacity": 1},
"encoding": {
"x": {"field": "t", "type": "temporal",
"scale": {"domain": [{"year": 2024, "month": 3, "date": 30}, {"year": 2024, "month": 5, "date": 6}]},
"axis": {"title": null, "tickCount": 74, "labelExpr": "hours(datum.value) == 0 ? ['dim.','lun.','mar.','mer.','jeu.','ven.','sam.'][day(datum.value)] + ' ' + date(datum.value) + '/' + (month(datum.value) + 1) : ''", "labelAngle": -45, "labelFontSize": 15, "labelColor": "#111111", "domainColor": "#222222", "domainWidth": 2, "tickColor": "#222222", "tickSize": 5, "labelOverlap": false, "labelFlush": false, "grid": false, "labelPadding": 3}},
"y": {"field": "q", "type": "quantitative",
"scale": {"domain": [0, 50], "nice": false},
"axis": {"title": null, "values": [0,5,10,15,20,25,30,35,40,45,50], "tickCount": 20, "labelOverlap": false, "labelExpr": "datum.value + ' m³'", "labelFontSize": 15, "labelColor": "#111111", "domainColor": "#222222", "domainWidth": 2, "tickColor": "#222222", "tickSize": 6, "labelPadding": 7, "grid": false}},
"fill": {"datum": "PT011 STEP ENTREE BOULOGNE SUR GESSE", "type": "nominal",
"scale": {"domain": ["PT011 STEP ENTREE BOULOGNE SUR GESSE"], "range": ["#ffcb99"]},
"legend": {"title": null, "orient": "none", "legendX": -26, "legendY": 452, "symbolType": "M-1.12,-0.8H6.88V0.8H-1.12Z", "symbolSize": 156, "symbolStrokeWidth": 1.5, "labelFont": "DejaVu Sans", "labelFontSize": 15.5, "labelOffset": 41, "labelColor": "#111111", "padding": 6, "labelLimit": 600}}
}
},
{
"mark": {"type": "line", "strokeWidth": 1, "opacity": 0.8, "clip": true},
"encoding": {
"x": {"field": "t", "type": "temporal"},
"y": {"field": "s", "type": "quantitative",
"axis": {"title": null, "values": [0,5,10,15,20,25,30,35,40,45,50], "tickCount": 20, "labelOverlap": false, "labelExpr": "datum.value + ' m³'", "labelFontSize": 15, "labelColor": "#111111", "domainColor": "#222222", "domainWidth": 2, "tickColor": "#222222", "tickSize": 6, "labelPadding": 7, "grid": false}},
"stroke": {"datum": "Vol de temps Sec (277.65 m3/j)", "type": "nominal",
"scale": {"domain": ["Vol de temps Sec (277.65 m3/j)", "Q parasite (28 %)"], "range": ["#f5a460", "#1ea7d8"]},
"legend": {"title": " ", "titleOrient": "left", "titlePadding": 877, "titleFontSize": 4, "orient": "none", "legendX": -59, "legendY": 452, "direction": "horizontal", "columns": 2, "columnPadding": 32, "symbolType": "M-1.12,0H6.88", "symbolSize": 156, "symbolStrokeWidth": 1.5, "labelFont": "DejaVu Sans", "labelFontSize": 15.5, "labelOffset": 41, "labelColor": "#111111", "padding": 6, "strokeColor": "#a3dcdf", "fillColor": "transparent", "labelLimit": 600}}
}
},
{
"data": {"name": "qp"},
"mark": {"type": "rule", "strokeWidth": 2},
"encoding": {
"y": {"field": "qp", "type": "quantitative",
"axis": {"title": null, "values": [0,5,10,15,20,25,30,35,40,45,50], "tickCount": 20, "labelOverlap": false, "labelExpr": "datum.value + ' m³'", "labelFontSize": 15, "labelColor": "#111111", "domainColor": "#222222", "domainWidth": 2, "tickColor": "#222222", "tickSize": 6, "labelPadding": 7, "grid": false}},
"stroke": {"datum": "Q parasite (28 %)", "type": "nominal"}
}
}
]
},
{
"data": {"name": "rain", "format": {"parse": {"t": "date:'%y%m%d%H'"}}},
"mark": {"type": "bar", "width": 1.6, "opacity": 0.6, "clip": true},
"encoding": {
"x": {"field": "t", "type": "temporal"},
"y": {"field": "r", "type": "quantitative",
"scale": {"domain": [0, 6], "reverse": true, "nice": false},
"axis": {"title": null, "orient": "right", "values": [0,1,2,3,4,5,6], "labelExpr": "datum.value + ' mm'", "labelFontSize": 15, "labelColor": "#1ec3f4", "domainColor": "#222222", "domainWidth": 2, "tickColor": "#222222", "tickSize": 6, "labelPadding": 10, "grid": false}},
"color": {"datum": "PLUVIO BOULOGNE-SUR-GESSE (mm/h)", "type": "nominal",
"scale": {"domain": ["PLUVIO BOULOGNE-SUR-GESSE (mm/h)"], "range": ["#0a64cc"]},
"legend": {"title": null, "orient": "none", "legendX": 412, "legendY": 452, "symbolType": "M-1.12,-0.8H6.88V0.8H-1.12Z", "symbolSize": 156, "symbolStrokeWidth": 1.5, "symbolOpacity": 1, "labelFont": "DejaVu Sans", "labelFontSize": 15.5, "labelOffset": 41, "labelColor": "#1ec3f4", "padding": 6, "labelLimit": 600}}
}
}
],
"resolve": {"scale": {"y": "independent"}}
}
